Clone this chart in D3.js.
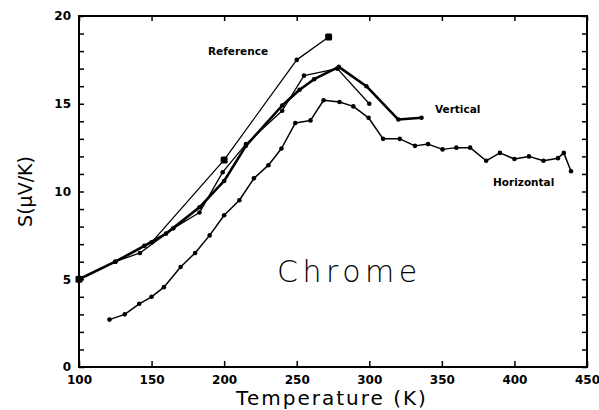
<!DOCTYPE html>
<html>
<head>
<meta charset="utf-8">
<script src="https://cdn.jsdelivr.net/npm/d3@7"></script>
<style>
  body { margin: 0; background: #fff; }
  svg { display: block; }
  .tick text { font-family: "DejaVu Sans", sans-serif; font-weight: bold; font-size: 12px; }
</style>
</head>
<body>
<svg id="chart" width="599" height="410"></svg>
<script>
// thermopower of chrome
var refT = [100, 125, 150, 200, 250, 272];
var refS = [5.0, 6.0, 7.1, 11.8, 17.5, 18.8];

var vertT = [100, 125, 145, 160, 183, 200, 215, 240, 252, 262, 279, 298, 320, 336];
var vertS = [5.0, 6.0, 6.9, 7.6, 9.1, 10.6, 12.6, 14.9, 15.8, 16.4, 17.1, 16.0, 14.1, 14.2];

var vert2T = [125, 142, 165, 183, 199, 215, 240, 255, 278, 300];
var vert2S = [6.0, 6.5, 7.9, 8.8, 11.1, 12.7, 14.6, 16.6, 17.0, 15.0];

var horT = [121, 131.5, 141.5, 150, 158.5, 170, 180, 190, 200, 210.5, 220.5, 230.5, 239.5, 249,
            259.5, 268.5, 279.5, 289, 299.5, 309.5, 321, 331.5, 340.5, 350.5, 360, 369.5, 380.5,
            390, 400, 410, 420, 430, 434, 439];
var horS = [2.7, 3.0, 3.6, 4.0, 4.55, 5.7, 6.5, 7.5, 8.65, 9.5, 10.75, 11.5, 12.45, 13.9,
            14.05, 15.2, 15.1, 14.85, 14.2, 13.0, 13.0, 12.6, 12.7, 12.4, 12.5, 12.5, 11.75,
            12.2, 11.85, 12.0, 11.75, 11.9, 12.2, 11.15];

var xTicks = [100, 150, 200, 250, 300, 350, 400, 450];

var LEFT = 79, RIGHT = 587, TOP = 16, BOTTOM = 367;

var svg = d3.select("#chart");

var x = d3.scaleLinear().domain([100, 450]).range([LEFT, RIGHT]);
var y = d3.scaleLinear().domain([0, 20]).range([BOTTOM, TOP]);

function pairs(ts, ss) {
	return ts.map(function(t, i) { return [t, ss[i]]; });
}

var line = d3.line()
	.x(function(d) { return x(d[0]); })
	.y(function(d) { return y(d[1]); });

// axes, ticks pointing into the frame
svg.append("g")
	.attr("transform", "translate(" + LEFT + ",0)")
	.call(d3.axisLeft(y).tickValues(d3.range(0, 21)).tickSize(-5).tickPadding(8)
		.tickFormat(function(d) { return d % 5 == 0 ? d : ""; }));

svg.append("g")
	.attr("transform", "translate(" + RIGHT + ",0)")
	.call(d3.axisRight(y).tickValues(d3.range(0, 21)).tickSize(-5).tickFormat(""));

svg.append("g")
	.attr("transform", "translate(0," + BOTTOM + ")")
	.call(d3.axisBottom(x).tickValues(xTicks).tickSize(-6).tickPadding(8)
		.tickFormat(d3.format("d")));

svg.append("g")
	.attr("transform", "translate(0," + TOP + ")")
	.call(d3.axisTop(x).tickValues(xTicks).tickSize(-5).tickFormat(""));

svg.selectAll(".domain").remove();
svg.selectAll(".tick line").attr("stroke", "#000").attr("stroke-width", 1.5);

svg.append("rect")
	.attr("x", LEFT).attr("y", TOP)
	.attr("width", RIGHT - LEFT).attr("height", BOTTOM - TOP)
	.attr("fill", "none").attr("stroke", "#000").attr("stroke-width", 2);

// curves
var series = [
	{ data: pairs(refT, refS), width: 1.3 },
	{ data: pairs(vert2T, vert2S), width: 1.3 },
	{ data: pairs(vertT, vertS), width: 2.6 },
	{ data: pairs(horT, horS), width: 1.5 }
];

series.forEach(function(s) {
	svg.append("path")
		.datum(s.data)
		.attr("d", line)
		.attr("fill", "none")
		.attr("stroke", "#000")
		.attr("stroke-width", s.width)
		.attr("stroke-linejoin", "round");

	svg.append("g").selectAll("circle")
		.data(s.data)
		.enter()
		.append("circle")
		.attr("cx", function(d) { return x(d[0]); })
		.attr("cy", function(d) { return y(d[1]); })
		.attr("r", 2.3)
		.attr("fill", "#000");
});

// the reference points are drawn bigger
svg.append("g").selectAll("rect")
	.data(pairs(refT, refS).filter(function(d) { return d[0] == 100 || d[0] == 200 || d[0] == 272; }))
	.enter()
	.append("rect")
	.attr("x", function(d) { return x(d[0]) - 3.5; })
	.attr("y", function(d) { return y(d[1]) - 3.5; })
	.attr("width", 7).attr("height", 7)
	.attr("rx", 1.5)
	.attr("fill", "#000");

// labels
function label(txt, px, py, size, weight, anchor) {
	return svg.append("text")
		.attr("x", px).attr("y", py)
		.attr("text-anchor", anchor || "start")
		.style("font-family", "'DejaVu Sans', sans-serif")
		.style("font-size", size + "px")
		.style("font-weight", weight)
		.text(txt);
}

label("Reference", 208, 55, 10.5, "bold");
label("Vertical", 435, 113, 10.5, "bold");
label("Horizontal", 493, 186, 10.5, "bold");
label("Chrome", 277, 282, 30, 200).style("letter-spacing", "4.5px");

label("Temperature  (K)", 332, 405, 20, "normal", "middle").style("letter-spacing", "2px");

svg.append("text")
	.attr("transform", "translate(32," + ((TOP + BOTTOM) / 2) + ") rotate(-90)")
	.attr("text-anchor", "middle")
	.style("font-family", "'DejaVu Sans', sans-serif")
	.style("font-size", "19px")
	.text("S(\u03bcV/K)");
</script>
</body>
</html>
